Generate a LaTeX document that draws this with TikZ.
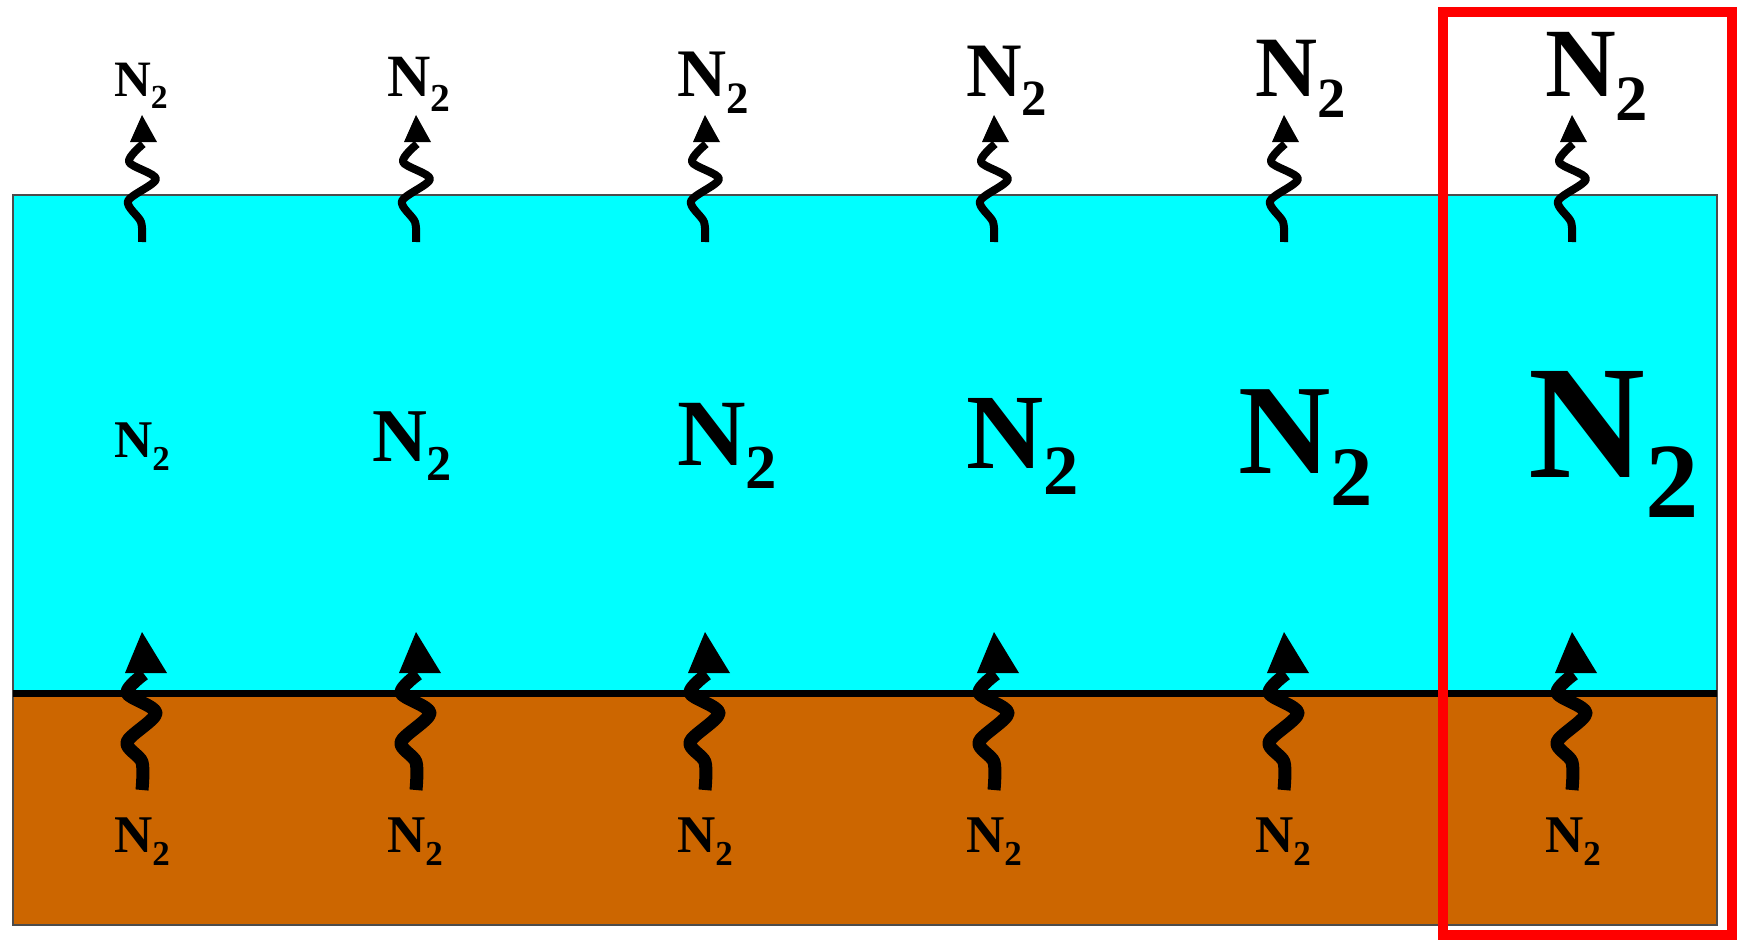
\documentclass[tikz,border=0pt]{standalone}
\usepackage{fontspec}
\setmainfont{Liberation Serif}
\definecolor{water}{RGB}{0,255,255}
\definecolor{soil}{RGB}{204,102,0}
\definecolor{boxred}{RGB}{255,0,0}
\newcommand{\NN}[1]{\pgfmathsetmacro\subsz{0.66*#1}\fontsize{#1pt}{#1pt}\selectfont\bfseries N\raisebox{-0.25em}{\fontsize{\subsz pt}{\subsz pt}\selectfont 2}}
\tikzset{
  thinwig/.style={line width=8pt, line cap=butt, line join=round},
  thickwig/.style={line width=13pt, line cap=butt, line join=round},
  lbl/.style={inner sep=0pt, outer sep=0pt, anchor=base west},
}
\begin{document}
\begin{tikzpicture}[x=1pt,y=-1pt]
\useasboundingbox (0,0) rectangle (1740,943);
% layers
\fill[water] (13,195) rectangle (1717,693);
\fill[soil] (13,693) rectangle (1717,925);
\draw[black!70, line width=2pt] (13,195) rectangle (1717,925);
\draw[black, line width=7pt] (13,693) -- (1717,693);
\foreach \cx/\tx/\ts/\mx/\my/\ms [count=\i] in {
  141/114/51/114/457/53,
  415/387/60/372/461/76,
  704/677/68/677/465/95,
  993/966/77/966/468/107,
  1283/1255/86/1238/473/128,
  1571/1545/98/1528/477/162}{
  % top wiggle arrow
  \draw[thinwig] plot[smooth, tension=0.5] coordinates {(\cx+1,242) (\cx,222) (\cx-13,201) (\cx+15,179) (\cx-12,162) (\cx+2,144)};
  \fill (\cx-11,142) -- (\cx+1,115) -- (\cx+16,142) -- cycle;
  % bottom wiggle arrow
  \draw[thickwig] plot[smooth, tension=0.5] coordinates {(\cx+1,790) (\cx+1,762) (\cx-14,742) (\cx+15,713) (\cx-14,693) (\cx+3,674)};
  \fill (\cx-16,673) -- (\cx+1,632) -- (\cx+26,673) -- cycle;
  % labels
  \node[lbl] (top\i) at (\tx,96) {\NN{\ts}};
  \node[lbl] (mid\i) at (\mx,\my) {\NN{\ms}};
  \node[lbl] (bot\i) at (\tx,852) {\NN{53}};
}
% highlight box
\draw[boxred, line width=10pt] (1443,12) rectangle (1732,935);
\end{tikzpicture}
\end{document}
